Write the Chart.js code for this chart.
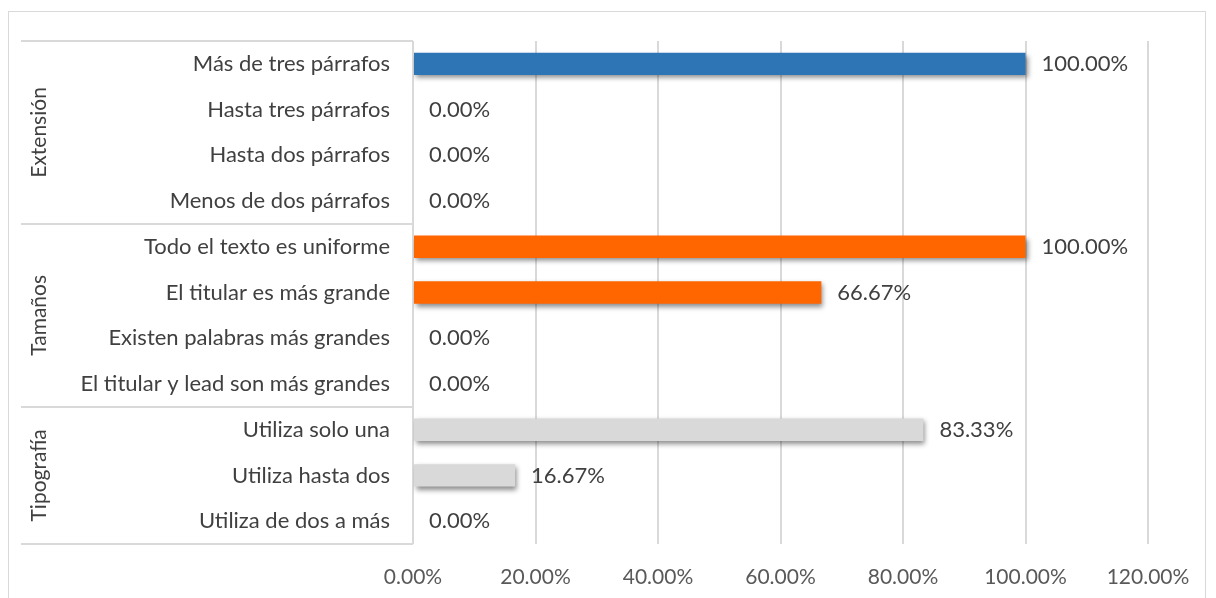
<!DOCTYPE html>
<html>
<head>
<meta charset="utf-8">
<script src="https://cdn.jsdelivr.net/npm/chart.js@4"></script>
<style>
  html,body{margin:0;padding:0;background:#fff;overflow:hidden;}
  #wrap{position:relative;width:1216px;height:598px;}
  #frame{position:absolute;left:8px;top:11px;width:1198px;height:620px;border:1px solid #d9d9d9;box-sizing:border-box;}
  canvas{position:absolute;left:0;top:0;}
</style>
</head>
<body>
<div id="wrap">
  <div id="frame"></div>
  <canvas id="c" width="1216" height="598"></canvas>
</div>
<script>
const groups = ['Extensión', 'Tamaños', 'Tipografía'];
const categories = [
  'Más de tres párrafos', 'Hasta tres párrafos', 'Hasta dos párrafos', 'Menos de dos párrafos',
  'Todo el texto es uniforme', 'El titular es más grande', 'Existen palabras más grandes', 'El titular y lead son más grandes',
  'Utiliza solo una', 'Utiliza hasta dos', 'Utiliza de dos a más'
];
const groupOf = [0, 0, 0, 0, 1, 1, 1, 1, 2, 2, 2];
const values = [100, 0, 0, 0, 100, 66.67, 0, 0, 83.33, 16.67, 0];
const groupColors = ['#2E75B6', '#FF6600', '#D9D9D9'];
const xMin = 0, xMax = 120, xStep = 20;

const FONT = 'Lato, "Open Sans", sans-serif';
const TEXT = '#404040';
const LINE = '#d9d9d9';

const shadowPlugin = {
  id: 'shadow',
  beforeDatasetsDraw(chart) {
    const ctx = chart.ctx;
    ctx.save();
    ctx.shadowColor = 'rgba(0,0,0,0.45)';
    ctx.shadowBlur = 5;
    ctx.shadowOffsetX = 2;
    ctx.shadowOffsetY = 3;
  },
  afterDatasetsDraw(chart) {
    chart.ctx.restore();
  }
};

const groupPlugin = {
  id: 'groups',
  afterDraw(chart) {
    const ctx = chart.ctx;
    const y = chart.scales.y;
    const area = chart.chartArea;
    const half = (y.getPixelForValue(1) - y.getPixelForValue(0)) / 2;
    const xLeft = 21;
    ctx.save();
    const bounds = [];
    let start = 0;
    for (let i = 1; i <= groupOf.length; i++) {
      if (i === groupOf.length || groupOf[i] !== groupOf[i - 1]) {
        bounds.push([start, i - 1]);
        start = i;
      }
    }
    ctx.strokeStyle = LINE;
    ctx.lineWidth = 2;
    const lineYs = [];
    bounds.forEach(([a, b], gi) => {
      const top = y.getPixelForValue(a) - half;
      const bot = y.getPixelForValue(b) + half;
      if (gi === 0) lineYs.push(top);
      lineYs.push(bot);
      ctx.save();
      ctx.translate(39, (top + bot) / 2);
      ctx.rotate(-Math.PI / 2);
      ctx.fillStyle = TEXT;
      ctx.font = '21px ' + FONT;
      ctx.textAlign = 'center';
      ctx.textBaseline = 'middle';
      ctx.fillText(groups[groupOf[a]], 0, 0);
      ctx.restore();
    });
    lineYs.forEach(ly => {
      ctx.beginPath();
      ctx.moveTo(xLeft, Math.round(ly));
      ctx.lineTo(area.left, Math.round(ly));
      ctx.stroke();
    });
    const meta = chart.getDatasetMeta(0);
    ctx.fillStyle = TEXT;
    ctx.font = '22px ' + FONT;
    ctx.textAlign = 'left';
    ctx.textBaseline = 'middle';
    meta.data.forEach((bar, i) => {
      ctx.fillText(values[i].toFixed(2) + '%', bar.x + 16, bar.y);
    });
    ctx.restore();
  }
};

new Chart(document.getElementById('c'), {
  type: 'bar',
  data: {
    labels: categories,
    datasets: [{
      data: values,
      backgroundColor: groupOf.map(g => groupColors[g]),
      borderWidth: 0,
      barPercentage: 0.49,
      categoryPercentage: 1.0
    }]
  },
  options: {
    indexAxis: 'y',
    responsive: false,
    animation: false,
    events: [],
    layout: { padding: { left: 0, top: 41, right: 68, bottom: 0 } },
    plugins: { legend: { display: false }, tooltip: { enabled: false } },
    scales: {
      x: {
        min: xMin, max: xMax,
        ticks: {
          stepSize: xStep,
          padding: 21,
          color: '#595959',
          font: { family: FONT, size: 21 },
          callback: v => Number(v).toFixed(2) + '%'
        },
        grid: { color: LINE, lineWidth: 2, drawTicks: false },
        border: { display: false },
        afterFit(s) { s.height = 54; }
      },
      y: {
        ticks: {
          padding: 23,
          color: TEXT,
          font: { family: FONT, size: 22 },
          autoSkip: false
        },
        grid: { display: false, drawTicks: false },
        border: { display: false },
        afterFit(s) { s.width = 413; }
      }
    }
  },
  plugins: [shadowPlugin, groupPlugin]
});
</script>
</body>
</html>
